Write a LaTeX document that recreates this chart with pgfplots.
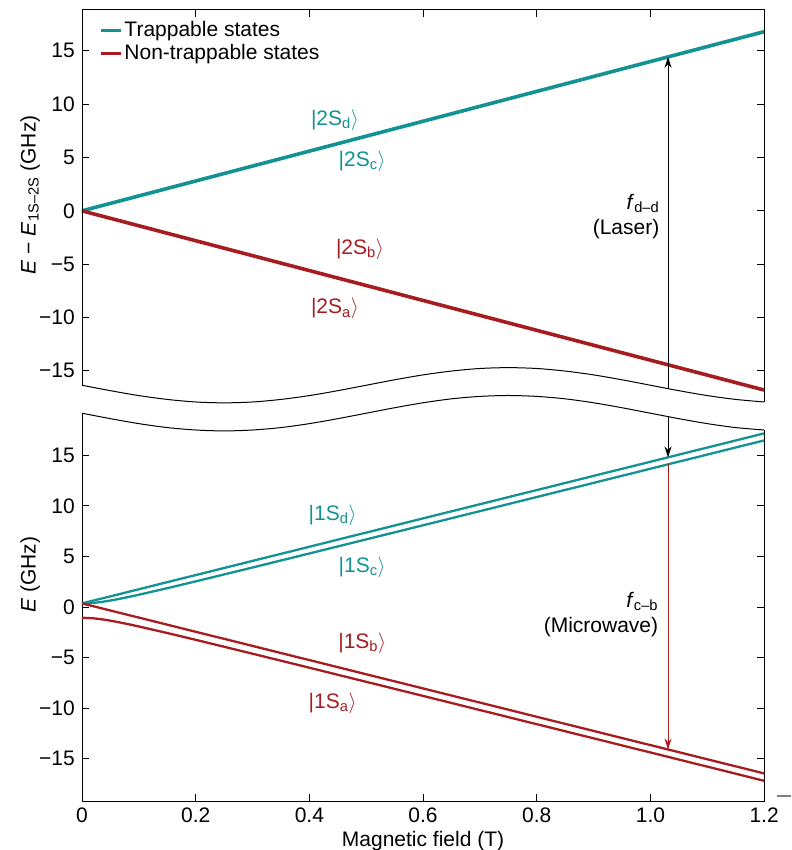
\documentclass[border=0pt]{standalone}
\usepackage{fontspec}
\setmainfont{Liberation Sans}
\usepackage{pgfplots}
\pgfplotsset{compat=1.18}
\usetikzlibrary{arrows.meta}
\definecolor{teal2}{RGB}{18,146,146}
\definecolor{red2}{RGB}{166,28,32}
\begin{document}
\fontsize{21}{25}\selectfont
\begin{tikzpicture}
\pgfplotsset{
 common/.style={
  scale only axis, width=682pt, xmin=0, xmax=1.2, clip=false,
  axis line style={draw=none},
  tick align=inside, major tick length=7pt,
  tick style={black, line width=0.9pt},
  ytick={-15,-10,-5,0,5,10,15},
  yticklabels={−15,−10,−5,0,5,10,15},
  ytick pos=both, yticklabel pos=left,
  tick label style={font=\fontsize{21}{25}\selectfont},
  label style={font=\fontsize{21}{25}\selectfont},
 },
}
% ---------------- top panel (2S) ----------------
\begin{axis}[common, at={(0pt,396pt)}, anchor=south west, height=395pt,
  ymin=-18.2, ymax=18.84,
  xtick={0.2,0.4,0.6,0.8,1.0}, xticklabels={}, xtick pos=right,
  ylabel={\textit{E} − \textit{E}\textsubscript{1S–2S} (GHz)},
  ylabel style={at={(axis description cs:-0.076,0.532)}, anchor=center},
  legend style={at={(axis description cs:0.026,0.975)}, anchor=north west, draw=none, fill=none,
    inner sep=0pt, row sep=1pt, font=\fontsize{21}{25}\selectfont, nodes={inner sep=1.5pt}},
  legend cell align=left,
  legend image code/.code={\draw[#1, line width=3pt] (0pt,0pt) -- (20pt,0pt);},
]
\addplot[teal2, line width=3.6pt] coordinates {(0,0) (1.2,16.8)};
\addlegendentry{Trappable states}
\addplot[red2, line width=3.6pt] coordinates {(0,0) (1.2,-16.8)};
\addlegendentry{Non-trappable states}
% frame
\addplot[black, line width=1pt, forget plot] coordinates {(0,-16.35) (0,18.84) (1.2,18.84) (1.2,-17.92)};
% break curve
\addplot[black, line width=1pt, smooth, forget plot] coordinates {
(0,-16.35) (0.05,-16.86) (0.1,-17.32) (0.15,-17.68) (0.2,-17.92) (0.25,-18.00)
(0.3,-17.92) (0.35,-17.68) (0.4,-17.32) (0.45,-16.86) (0.5,-16.35) (0.55,-15.84)
(0.6,-15.38) (0.65,-15.02) (0.7,-14.78) (0.75,-14.70) (0.8,-14.78) (0.85,-15.02)
(0.9,-15.38) (0.95,-15.84) (1.0,-16.35) (1.05,-16.86) (1.1,-17.32) (1.15,-17.68) (1.2,-17.92)};
% laser arrow
\addplot[black, line width=1pt, -{Stealth[length=11pt,width=7pt]}, forget plot] coordinates {(1.031,-16.67) (1.031,14.43)};
\node[anchor=north east, align=right, inner sep=0pt] at (axis cs:1.016,1.6) {\textit{f}\textsubscript{d–d}\\(Laser)};
\node[text=teal2] at (axis cs:0.445,8.53) {|2S\textsubscript{d}\ensuremath{\rangle}};
\node[text=teal2] at (axis cs:0.493,4.69) {|2S\textsubscript{c}\ensuremath{\rangle}};
\node[text=red2] at (axis cs:0.489,-3.56) {|2S\textsubscript{b}\ensuremath{\rangle}};
\node[text=red2] at (axis cs:0.445,-9.18) {|2S\textsubscript{a}\ensuremath{\rangle}};
\end{axis}
% ---------------- bottom panel (1S) ----------------
\begin{axis}[common, at={(0pt,0pt)}, anchor=south west, height=407.5pt,
  ymin=-19.17, ymax=21.1,
  xtick={0,0.2,0.4,0.6,0.8,1.0,1.2}, xticklabels={0,0.2,0.4,0.6,0.8,1.0,1.2}, xtick pos=left,
  xlabel={Magnetic field (T)},
  xlabel style={at={(axis description cs:0.5,-0.112)}, anchor=base},
  ylabel={\textit{E} (GHz)},
  ylabel style={at={(axis description cs:-0.076,0.555)}, anchor=center},
]
% frame
\addplot[black, line width=1pt] coordinates {(0,19.15) (0,-19.17) (1.2,-19.17) (1.2,17.49)};
% break curve
\addplot[black, line width=1pt, smooth] coordinates {
(0,19.15) (0.05,18.61) (0.1,18.12) (0.15,17.73) (0.2,17.49) (0.25,17.40)
(0.3,17.49) (0.35,17.73) (0.4,18.12) (0.45,18.61) (0.5,19.15) (0.55,19.69)
(0.6,20.18) (0.65,20.57) (0.7,20.81) (0.75,20.90) (0.8,20.81) (0.85,20.57)
(0.9,20.18) (0.95,19.69) (1.0,19.15) (1.05,18.61) (1.1,18.12) (1.15,17.73) (1.2,17.49)};
% 1S_d
\addplot[teal2, line width=2.3pt] coordinates {(0,0.355) (1.2,17.155)};
% 1S_c
\addplot[teal2, line width=2.3pt, smooth] coordinates {
(0,0.355) (0.02,0.408) (0.04,0.549) (0.06,0.745) (0.08,0.971) (0.1,1.215) (0.15,1.862)
(0.2,2.534) (0.3,3.905) (0.4,5.290) (0.6,8.075) (0.8,10.868) (1.0,13.663) (1.2,16.460)};
% 1S_b
\addplot[red2, line width=2.3pt] coordinates {(0,0.355) (1.2,-16.445)};
% 1S_a
\addplot[red2, line width=2.3pt, smooth] coordinates {
(0,-1.065) (0.02,-1.118) (0.04,-1.259) (0.06,-1.455) (0.08,-1.681) (0.1,-1.925) (0.15,-2.572)
(0.2,-3.244) (0.3,-4.615) (0.4,-6.000) (0.6,-8.785) (0.8,-11.578) (1.0,-14.373) (1.2,-17.170)};
% arrows
\addplot[black, line width=1pt, -{Stealth[length=11pt,width=7pt]}] coordinates {(1.031,18.82) (1.031,14.79)};
\addplot[red2, line width=1pt, -{Stealth[length=11pt,width=7pt]}] coordinates {(1.031,14.10) (1.031,-14.08)};
\addplot[gray, line width=1.5pt] coordinates {(1.223,-18.68) (1.2476,-18.68)};
\node[anchor=north east, align=right, inner sep=0pt] at (axis cs:1.014,1.48) {\textit{f}\textsubscript{c–b}\\(Microwave)};
\node[text=teal2] at (axis cs:0.441,9.09) {|1S\textsubscript{d}\ensuremath{\rangle}};
\node[text=teal2] at (axis cs:0.493,3.95) {|1S\textsubscript{c}\ensuremath{\rangle}};
\node[text=red2] at (axis cs:0.493,-3.56) {|1S\textsubscript{b}\ensuremath{\rangle}};
\node[text=red2] at (axis cs:0.441,-9.49) {|1S\textsubscript{a}\ensuremath{\rangle}};
\coordinate (bbl) at (axis cs:-0.1443,-24.01);
\coordinate (btr) at (axis cs:1.2476,59.98);
\end{axis}
\pgfresetboundingbox
\path[use as bounding box] (bbl) rectangle (btr);
\end{tikzpicture}
\end{document}
